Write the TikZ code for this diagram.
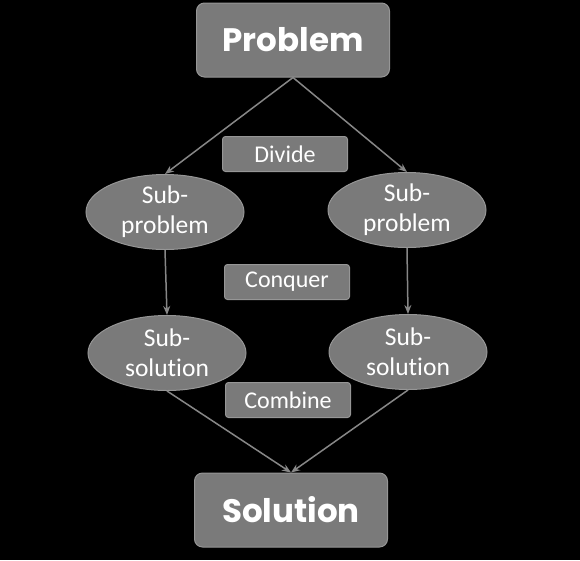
\documentclass[tikz,border=0pt]{standalone}
\usepackage{fontspec}
\setmainfont[Ligatures=CommonOff]{Carlito}
\newfontfamily\headfont{Poppins}
\usetikzlibrary{shapes.geometric,arrows.meta}
\definecolor{boxgray}{RGB}{122,122,122}
\definecolor{edgegray}{RGB}{150,150,150}
\definecolor{linegray}{RGB}{135,135,135}
\tikzset{
  bigbox/.style={draw=edgegray, line width=1pt, fill=boxgray, rounded corners=8pt, minimum width=193pt, minimum height=74pt, inner sep=0pt, text=white, font=\headfont\bfseries\fontsize{32.5}{36}\selectfont},
  labbox/.style={draw=edgegray, line width=1pt, fill=boxgray, rounded corners=3pt, minimum width=125pt, minimum height=35pt, inner sep=0pt, text=white, font=\fontsize{24}{28}\selectfont},
  subell/.style={ellipse, draw=edgegray, line width=1pt, fill=boxgray, minimum width=158pt, minimum height=75pt, inner sep=0pt, text=white, align=center, font=\fontsize{25.5}{30}\selectfont},
  conn/.style={draw=linegray, line width=1.5pt, -{Stealth[length=9pt,width=7pt]}}
}
\begin{document}
\begin{tikzpicture}[x=1pt,y=-1pt]
\fill[black] (0,0) rectangle (580,560);
\useasboundingbox (0,0) rectangle (580,560);
\node[bigbox] (prob) at (293,40) {Problem};
\node[bigbox] (sol) at (291,510) {Solution};
\node[labbox] (div) at (285,154) {Divide};
\node[labbox] (conq) at (287,282) {Conquer};
\node[labbox] (comb) at (288,400) {Combine};
\node[subell] (spl) at (165,212) {Sub-\\problem};
\node[subell] (spr) at (407,210) {Sub-\\problem};
\node[subell] (ssl) at (167,353) {Sub-\\solution};
\node[subell] (ssr) at (408,352) {Sub-\\solution};
\draw[conn] (prob.south) -- (spl.north);
\draw[conn] (prob.south) -- (spr.north);
\draw[conn] (spl.south) -- (ssl.north);
\draw[conn] (spr.south) -- (ssr.north);
\draw[conn] (ssl.south) -- (sol.north);
\draw[conn] (ssr.south) -- (sol.north);
\end{tikzpicture}
\end{document}
